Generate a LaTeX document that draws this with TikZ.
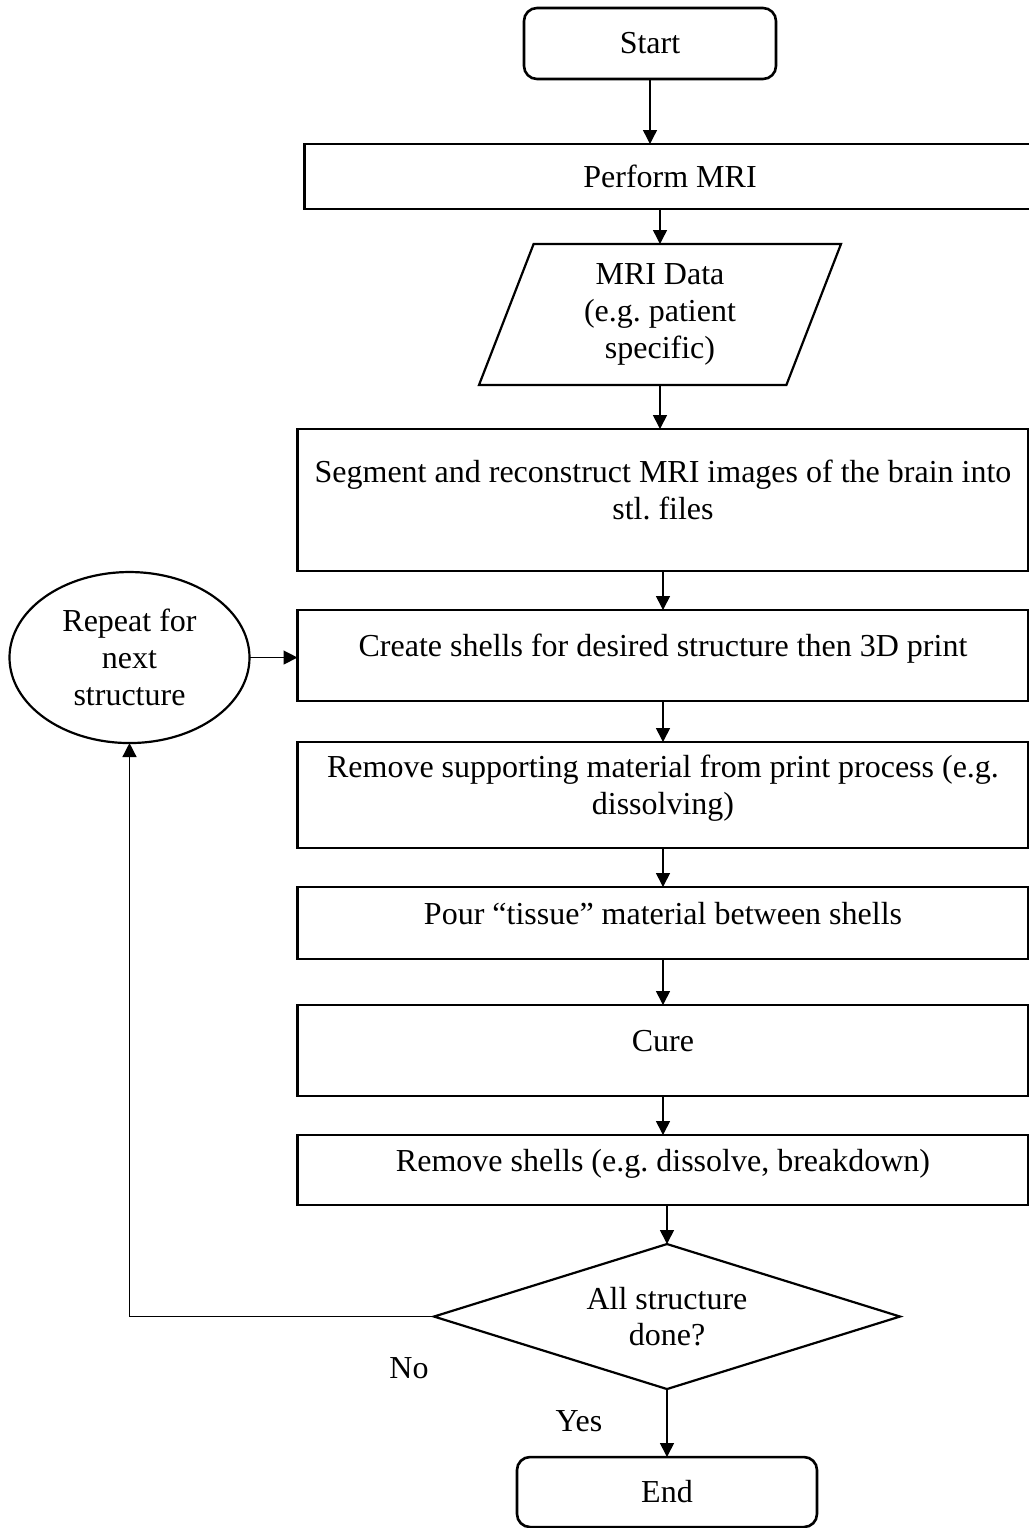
\documentclass[tikz,border=0pt]{standalone}
\usepackage{fontspec}
\setmainfont{Liberation Serif}
\usetikzlibrary{arrows.meta,positioning,shapes.geometric}
\newcommand{\flowfont}{\fontsize{16}{18.4}\selectfont\frenchspacing}
\tikzset{
  termbox/.style={
    draw=black,
    line width=1.3pt,
    rounded corners=6.5pt,
    minimum width=126pt,
    minimum height=35.5pt,
    align=center
  },
  procbox/.style={
    draw=black,
    line width=1.3pt,
    minimum width=365.5pt,
    inner sep=2pt,
    align=center
  },
  padtext/.style={execute at end node={\rule[-10pt]{0pt}{0pt}}},
  databox/.style={
    draw=black,
    trapezium,
    trapezium left angle=62.6,
    trapezium right angle=117.4,
    trapezium stretches body,
    minimum width=181pt,
    minimum height=70.5pt,
    inner sep=1pt,
    line width=1.1pt,
    align=center
  },
  decbox/.style={
    draw=black,
    diamond,
    aspect=3.2,
    minimum width=233pt,
    minimum height=72.5pt,
    inner sep=1pt,
    line width=1.1pt,
    align=center
  },
  loopbox/.style={
    draw=black,
    ellipse,
    minimum width=120pt,
    minimum height=85.5pt,
    inner sep=0pt,
    line width=1.1pt,
    align=center
  },
  flowarrow/.style={-{Triangle[length=7pt,width=7pt]}, line width=0.7pt, draw=black}
}

\begin{document}
\begin{tikzpicture}[font=\flowfont, outer sep=0pt]
\useasboundingbox (0,0) rectangle (514.5pt,-764pt);
\node[termbox] (start) at (325pt,-21.75pt) {Start};
\node[procbox, minimum height=32.5pt, below=32.5pt of start, xshift=10pt] (mri) {Perform MRI};
\node[databox, below=17.5pt of mri, xshift=-5pt] (data) {MRI Data\\(e.g. patient\\specific)};
\node[procbox, padtext, minimum height=71pt, below=22pt of data, xshift=1.5pt] (seg) {Segment and reconstruct MRI images of the brain into\\stl. files};
\node[procbox, padtext, minimum height=45.5pt, below=19.5pt of seg] (shells) {Create shells for desired structure then 3D print};
\node[procbox, padtext, minimum height=53pt, below=20.5pt of shells] (support) {Remove supporting material from print process (e.g.\\dissolving)};
\node[procbox, padtext, minimum height=36pt, below=19.5pt of support] (pour) {Pour “tissue” material between shells};
\node[procbox, padtext, minimum height=45.5pt, below=23pt of pour] (cure) {Cure};
\node[procbox, padtext, minimum height=35pt, below=19.5pt of cure] (rmshells) {Remove shells (e.g. dissolve, breakdown)};
\node[decbox, below=19.5pt of rmshells, xshift=2pt] (done) {All structure\\done?};
\node[termbox, minimum width=150pt, minimum height=35pt, below=34pt of done] (end) {End};
\node[loopbox, left=24pt of shells, yshift=-1pt] (repeat) {Repeat for\\next\\structure};
\node (no) at (204.5pt,-684pt) {No};
\node (yes) at (289.5pt,-710.5pt) {Yes};

\draw[flowarrow] (start.south) -- (start.south |- mri.north);
\draw[flowarrow] (data.north |- mri.south) -- (data.north);
\draw[flowarrow] (data.south) -- (data.south |- seg.north);
\draw[flowarrow] (seg) -- (shells);
\draw[flowarrow] (shells) -- (support);
\draw[flowarrow] (support) -- (pour);
\draw[flowarrow] (pour) -- (cure);
\draw[flowarrow] (cure) -- (rmshells);
\draw[flowarrow] (done.north |- rmshells.south) -- (done.north);
\draw[flowarrow] (done) -- (end);
\draw[flowarrow] (done.west) -| (repeat.south);
\draw[flowarrow] (repeat.east) -- (repeat.east -| shells.west);
\end{tikzpicture}
\end{document}
